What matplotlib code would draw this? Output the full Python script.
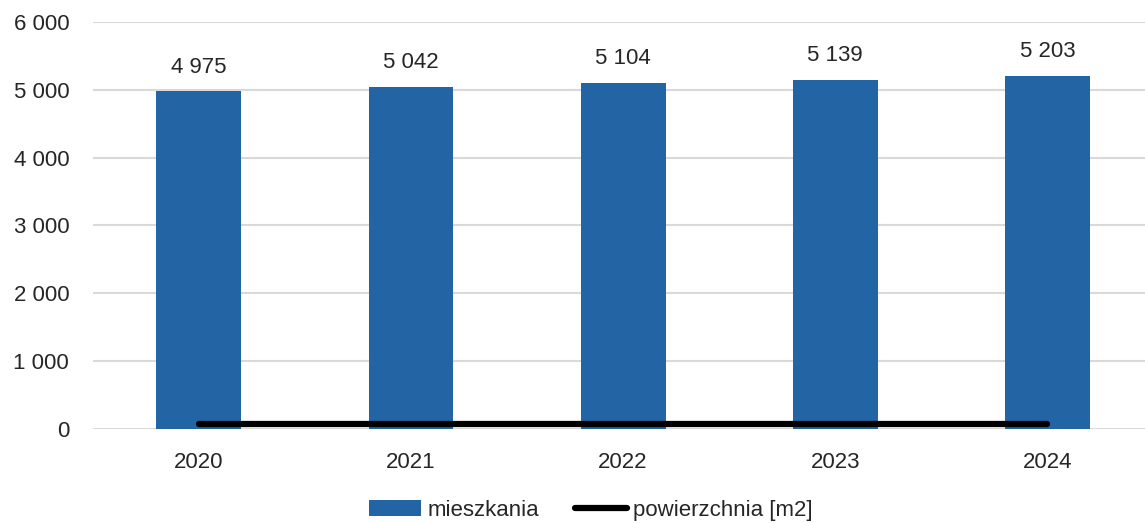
import numpy as np
import matplotlib.pyplot as plt
from matplotlib.patches import Patch
from matplotlib.lines import Line2D

plt.rcParams['font.family'] = ['Liberation Sans', 'DejaVu Sans']

years = ["2020", "2021", "2022", "2023", "2024"]
mieszkania = [4975, 5042, 5104, 5139, 5203]
powierzchnia = [78, 78, 78, 78, 78]

bar_color = "#2364A5"
text_color = "#262626"


def fmt(v):
    return f"{int(v):,}".replace(",", " ")


fig = plt.figure(figsize=(11.45, 5.23), dpi=100)
ax = fig.add_axes([0.081, 0.180, 0.919, 0.778])

x = np.arange(len(years))
bars = ax.bar(x, mieszkania, width=0.4, color=bar_color, zorder=2)
ax.plot(x, powierzchnia, color="black", linewidth=4.5, solid_capstyle="round", zorder=3)

for xi, v in zip(x, mieszkania):
    ax.annotate(fmt(v), (xi, v), xytext=(0, 10), textcoords="offset points",
                ha="center", va="bottom", fontsize=16, color=text_color)

ax.set_ylim(0, 6000)
ax.set_xlim(-0.5, 4.46)
ax.set_yticks(range(0, 6001, 1000))
ax.set_yticklabels([fmt(v) for v in range(0, 6001, 1000)])
ax.set_xticks(x)
ax.set_xticklabels(years)
ax.tick_params(axis="both", length=0, labelsize=16, colors=text_color)
ax.tick_params(axis="y", pad=17)
ax.tick_params(axis="x", pad=17)
ax.grid(axis="y", color="#D9D9D9", linewidth=1.5, zorder=0)
for s in ax.spines.values():
    s.set_visible(False)

handles = [Patch(facecolor=bar_color), Line2D([0], [0], color="black", linewidth=4.5, solid_capstyle="round")]
fig.legend(handles, ["mieszkania", "powierzchnia [m2]"], loc="center",
           bbox_to_anchor=(0.516, 0.024), ncol=2, frameon=False, fontsize=16,
           handlelength=2.35, handleheight=0.7, handletextpad=0.27, columnspacing=1.6,
           labelcolor=text_color, borderpad=0)

fig.savefig("out.png", dpi=100)
